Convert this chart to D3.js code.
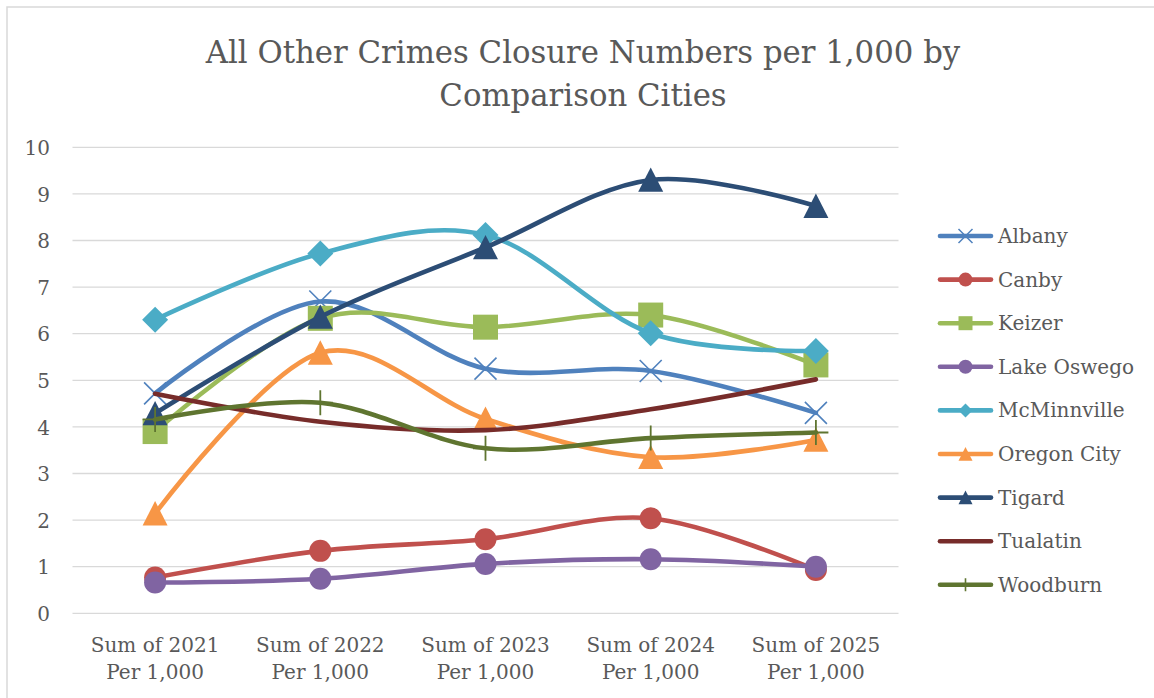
<!DOCTYPE html>
<html>
<head>
<meta charset="utf-8">
<script src="https://cdn.jsdelivr.net/npm/d3@7"></script>
<style>
  html, body { margin: 0; padding: 0; background: #fff; }
  svg { display: block; }
  text { font-family: "DejaVu Serif", "Liberation Serif", serif; fill: #595959; }
</style>
</head>
<body>
<svg id="chart" width="1154" height="698"></svg>
<script>
// Category labels (two lines each)
const categories = ["2021", "2022", "2023", "2024", "2025"];
const categoryLine1 = ["Sum of 2021", "Sum of 2022", "Sum of 2023", "Sum of 2024", "Sum of 2025"];
const categoryLine2 = ["Per 1,000", "Per 1,000", "Per 1,000", "Per 1,000", "Per 1,000"];
const yTicks = [0, 1, 2, 3, 4, 5, 6, 7, 8, 9, 10];

// Closure numbers per 1,000 residents, by city
const albany      = [4.72, 6.69, 5.25, 5.20, 4.30];
const canby       = [0.77, 1.34, 1.59, 2.04, 0.93];
const keizer      = [3.90, 6.33, 6.14, 6.40, 5.33];
const lakeOswego  = [0.66, 0.74, 1.06, 1.16, 1.00];
const mcminnville = [6.30, 7.72, 8.12, 6.01, 5.63];
const oregonCity  = [2.14, 5.59, 4.17, 3.35, 3.72];
const tigard      = [4.29, 6.36, 7.85, 9.30, 8.74];
const tualatin    = [4.71, 4.11, 3.93, 4.38, 5.02];
const woodburn    = [4.16, 4.52, 3.54, 3.76, 3.88];

const seriesNames   = ["Albany", "Canby", "Keizer", "Lake Oswego", "McMinnville", "Oregon City", "Tigard", "Tualatin", "Woodburn"];
const seriesValues  = [albany, canby, keizer, lakeOswego, mcminnville, oregonCity, tigard, tualatin, woodburn];
const seriesColors  = ["#4F81BD", "#C0504D", "#9BBB59", "#8064A2", "#4BACC6", "#F79646", "#2C4D75", "#772C2A", "#5F7530"];
const seriesMarkers = ["x", "circle", "square", "circle", "diamond", "triangle", "triangle", "none", "plus"];

const series = seriesNames.map((name, i) => ({
  name, values: seriesValues[i], color: seriesColors[i], marker: seriesMarkers[i]
}));

const svg = d3.select("#chart");

// Chart area border (light gray, open to the right/bottom edge)
svg.append("rect")
  .attr("x", 7).attr("y", 7).attr("width", 1160).attr("height", 700)
  .attr("fill", "none").attr("stroke", "#D9D9D9").attr("stroke-width", 1.5);

const plot = { left: 72.5, right: 898.5, top: 147.3, bottom: 613.3 };

const x = d3.scaleBand().domain(categories).range([plot.left, plot.right]).paddingInner(0).paddingOuter(0);
const xc = c => x(c) + x.bandwidth() / 2;
const y = d3.scaleLinear().domain([0, 10]).range([plot.bottom, plot.top]);

// Title
const titleLines = ["All Other Crimes Closure Numbers per 1,000 by", "Comparison Cities"];
const titleG = svg.append("g");
const t1 = titleG.append("text").attr("x", 583).attr("y", 63).attr("text-anchor", "middle")
  .style("font-size", "32px").text(titleLines[0]);
const w1 = t1.node().getComputedTextLength();
const titleSize = 32 * 755 / w1;
t1.style("font-size", titleSize + "px");
titleG.append("text").attr("x", 583).attr("y", 106).attr("text-anchor", "middle")
  .style("font-size", titleSize + "px").text(titleLines[1]);

// Horizontal gridlines
svg.append("g").selectAll("line").data(yTicks).join("line")
  .attr("x1", plot.left).attr("x2", plot.right)
  .attr("y1", d => y(d)).attr("y2", d => y(d))
  .attr("stroke", "#D9D9D9").attr("stroke-width", 1.3);

// Y axis labels
const yAxis = d3.axisLeft(y).tickValues(yTicks).tickSize(0).tickPadding(0).tickFormat(d3.format("d"));
const yg = svg.append("g").attr("transform", `translate(50,0)`).call(yAxis);
yg.select(".domain").remove();
yg.selectAll("text").style("font-size", "20px").attr("fill", "#595959")
  .style("font-family", '"DejaVu Serif", serif').attr("dy", "0.36em");

// X axis labels (two lines)
const xg = svg.append("g");
categories.forEach((c, i) => {
  xg.append("text").attr("x", xc(c)).attr("y", 652).attr("text-anchor", "middle")
    .style("font-size", "20px").text(categoryLine1[i]);
  xg.append("text").attr("x", xc(c)).attr("y", 679).attr("text-anchor", "middle")
    .style("font-size", "20px").text(categoryLine2[i]);
});

// Marker shapes
function drawMarker(g, type, cx, cy, s, color) {
  const h = s / 2;
  if (type === "circle") {
    g.append("circle").attr("cx", cx).attr("cy", cy).attr("r", h).attr("fill", color);
  } else if (type === "square") {
    g.append("rect").attr("x", cx - h).attr("y", cy - h).attr("width", s).attr("height", s).attr("fill", color);
  } else if (type === "diamond") {
    g.append("path").attr("d", `M${cx},${cy - h}L${cx + h},${cy}L${cx},${cy + h}L${cx - h},${cy}Z`).attr("fill", color);
  } else if (type === "triangle") {
    g.append("path").attr("d", `M${cx},${cy - h}L${cx + h},${cy + h * 0.95}L${cx - h},${cy + h * 0.95}Z`).attr("fill", color);
  } else if (type === "x") {
    g.append("path").attr("d", `M${cx - h},${cy - h}L${cx + h},${cy + h}M${cx - h},${cy + h}L${cx + h},${cy - h}`)
      .attr("stroke", color).attr("stroke-width", s > 16 ? 1.6 : 1.5).attr("fill", "none");
  } else if (type === "plus") {
    g.append("path").attr("d", `M${cx},${cy - h}L${cx},${cy + h}M${cx - h},${cy}L${cx + h},${cy}`)
      .attr("stroke", color).attr("stroke-width", s > 16 ? 1.8 : 1.6).attr("fill", "none");
  }
}

const markerSize = { circle: 22, square: 25, diamond: 26, triangle: 25, x: 22, plus: 25, none: 0 };

// Smoothed lines with markers, drawn series by series
const line = d3.line()
  .x((d, i) => xc(categories[i]))
  .y(d => y(d))
  .curve(d3.curveCardinal.tension(0));

const seriesG = svg.append("g");
series.forEach(s => {
  const g = seriesG.append("g");
  g.append("path").attr("d", line(s.values)).attr("fill", "none")
    .attr("stroke", s.color).attr("stroke-width", 4.6)
    .attr("stroke-linecap", "round").attr("stroke-linejoin", "round");
  if (s.marker !== "none") {
    s.values.forEach((v, i) => drawMarker(g, s.marker, xc(categories[i]), y(v), markerSize[s.marker], s.color));
  }
});

// Legend
const legend = svg.append("g");
const legendTop = 236, legendStep = 43.6;
series.forEach((s, i) => {
  const ly = legendTop + i * legendStep;
  const g = legend.append("g");
  g.append("line").attr("x1", 940).attr("x2", 991).attr("y1", ly).attr("y2", ly)
    .attr("stroke", s.color).attr("stroke-width", 4.6).attr("stroke-linecap", "round");
  if (s.marker !== "none") drawMarker(g, s.marker, 965.5, ly, s.marker === "plus" ? 13 : 14, s.color);
  g.append("text").attr("x", 998).attr("y", ly + 7).style("font-size", "20px").text(s.name);
});
</script>
</body>
</html>
